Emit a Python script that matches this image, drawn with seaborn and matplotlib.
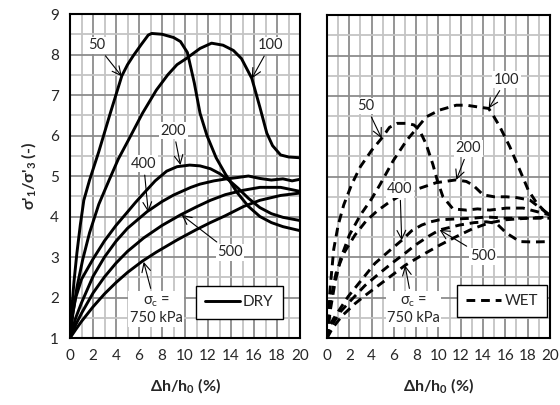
import numpy as np
import matplotlib
matplotlib.use("Agg")
import matplotlib.pyplot as plt
import seaborn as sns

# ---------------------------------------------
# Data (strain %, stress ratio)
# ---------------------------------------------
# DRY (solid)
dry_x50 = [0, 0.15, 0.35, 0.6, 0.9, 1.2, 1.7, 2.5, 3.5, 4.5, 5.0, 5.5, 6.2, 6.8, 7.1, 8.0,
           9.0, 9.6, 10.2, 10.8, 11.3, 11.9, 12.7, 13.5, 14.5, 15.5, 16.5, 17.5, 18.5, 20]
dry_y50 = [1, 1.7, 2.4, 3.1, 3.8, 4.4, 4.9, 5.6, 6.55, 7.47, 7.75, 7.97, 8.25, 8.48, 8.52, 8.5,
           8.42, 8.32, 8.05, 7.3, 6.55, 6.0, 5.45, 5.05, 4.6, 4.25, 4.0, 3.85, 3.75, 3.65]

dry_x100 = [0, 0.25, 0.6, 1.1, 1.7, 2.5, 3.4, 4.2, 5.1, 6.3, 7.5, 8.5, 9.3, 10.1, 11.3, 12.3,
            13.3, 14.2, 14.9, 15.8, 16.5, 17.1, 17.6, 18.3, 19.0, 20]
dry_y100 = [1, 1.6, 2.25, 2.93, 3.6, 4.3, 4.9, 5.42, 5.9, 6.55, 7.12, 7.5, 7.75, 7.9, 8.15, 8.28,
            8.23, 8.1, 7.9, 7.41, 6.7, 6.06, 5.75, 5.52, 5.47, 5.45]

dry_x200 = [0, 0.2, 0.5, 1.0, 2.0, 3.0, 4.0, 4.9, 5.7, 6.4, 7.4, 8.4, 9.3, 10.4, 11.3, 12.2,
            13.0, 13.8, 14.6, 15.5, 16.5, 17.5, 18.5, 20]
dry_y200 = [1, 1.55, 2.0, 2.45, 2.95, 3.4, 3.78, 4.08, 4.35, 4.57, 4.88, 5.12, 5.23, 5.27, 5.25, 5.18,
            5.06, 4.9, 4.7, 4.45, 4.22, 4.07, 3.98, 3.9]

dry_x400 = [0, 0.5, 1.0, 2.0, 3.0, 4.0, 5.0, 6.7, 8.0, 9.0, 10.5, 11.3, 12.5, 13.6, 14.5,
            15.5, 16.5, 17.5, 18.5, 19.3, 20]
dry_y400 = [1, 1.5, 1.87, 2.52, 3.0, 3.39, 3.71, 4.12, 4.37, 4.53, 4.72, 4.8, 4.88, 4.93, 4.96,
            5.0, 4.94, 4.9, 4.93, 4.88, 4.92]

dry_x500 = [0, 0.5, 1.0, 2.0, 3.0, 4.0, 5.0, 6.4, 8.0, 9.6, 11.0, 12.2, 13.5, 15.1, 16.5, 18.3, 20]
dry_y500 = [1, 1.33, 1.61, 2.11, 2.51, 2.85, 3.14, 3.47, 3.78, 4.04, 4.24, 4.4, 4.54, 4.65, 4.72, 4.72, 4.62]

dry_x750 = [0, 0.5, 1.0, 2.0, 3.0, 4.0, 5.0, 6.3, 7.5, 9.3, 11.0, 12.2, 13.5, 15.1, 16.5, 18.3, 20]
dry_y750 = [1, 1.21, 1.41, 1.77, 2.09, 2.37, 2.62, 2.9, 3.12, 3.42, 3.68, 3.85, 4.02, 4.25, 4.4, 4.52, 4.58]

# WET (dashed)
wet_x50 = [0, 0.15, 0.3, 0.6, 1.0, 1.5, 2.2, 3.0, 4.0, 4.9, 5.6, 6.3, 7.2, 7.8, 8.3, 8.9,
           9.5, 9.9, 10.4, 11.3, 12.5, 13.5, 14.6, 16.1, 17.6, 19.0, 20]
wet_y50 = [1, 1.8, 2.3, 3.2, 3.8, 4.3, 4.8, 5.25, 5.65, 5.95, 6.22, 6.32, 6.32, 6.28, 6.15, 5.8,
           5.3, 4.9, 4.5, 4.2, 4.17, 4.2, 4.17, 4.22, 4.22, 4.12, 4.05]

wet_x100 = [0, 0.3, 0.7, 1.2, 2.0, 3.0, 4.0, 4.75, 5.95, 7.15, 8.3, 8.9, 10.1, 11.6, 12.5,
            13.7, 14.5, 14.9, 15.5, 16.4, 17.3, 18.05, 18.8, 19.7, 20]
wet_y100 = [1, 1.7, 2.35, 2.95, 3.55, 4.05, 4.45, 4.8, 5.4, 5.9, 6.28, 6.48, 6.65, 6.77, 6.77,
            6.72, 6.69, 6.52, 6.24, 5.74, 5.16, 4.67, 4.35, 4.09, 4.05]

wet_x200 = [0, 0.3, 0.8, 1.5, 2.5, 3.5, 4.5, 5.5, 6.5, 7.4, 8.3, 9.8, 11.6, 12.5, 13.1, 14.0,
            15.0, 16.1, 17.0, 18.2, 19.0, 20]
wet_y200 = [1, 1.9, 2.6, 3.1, 3.55, 3.9, 4.15, 4.35, 4.52, 4.63, 4.71, 4.85, 4.92, 4.88, 4.79, 4.55,
            4.5, 4.5, 4.48, 4.42, 4.25, 4.05]

wet_x400 = [0, 0.3, 0.75, 1.9, 3.1, 4.3, 5.5, 6.7, 7.6, 8.5, 9.3, 10.1, 11.5, 13.1, 14.3, 16.1, 18.0, 20]
wet_y400 = [1, 1.35, 1.55, 2.03, 2.44, 2.85, 3.14, 3.42, 3.66, 3.8, 3.88, 3.93, 3.95, 3.97, 4.0, 3.97, 3.97, 3.97]

wet_x500 = [0, 0.5, 1.2, 2.2, 3.4, 4.6, 5.8, 7.0, 7.9, 9.1, 10.1, 11.9, 13.2, 14.3, 15.2, 16.1, 17.3, 18.5, 20]
wet_y500 = [1, 1.35, 1.65, 1.95, 2.3, 2.58, 2.85, 3.1, 3.3, 3.52, 3.68, 3.8, 3.86, 3.88, 3.84, 3.6, 3.39, 3.38, 3.39]

wet_x750 = [0, 0.5, 1.35, 2.5, 3.4, 4.6, 5.8, 7.0, 8.5, 10.1, 11.5, 13.0, 14.5, 16.0, 18.0, 20]
wet_y750 = [1, 1.25, 1.55, 1.85, 2.05, 2.3, 2.55, 2.8, 3.05, 3.3, 3.5, 3.7, 3.85, 3.93, 3.97, 4.0]

dry_curves = [(dry_x50, dry_y50), (dry_x100, dry_y100), (dry_x200, dry_y200),
              (dry_x400, dry_y400), (dry_x500, dry_y500), (dry_x750, dry_y750)]
wet_curves = [(wet_x50, wet_y50), (wet_x100, wet_y100), (wet_x200, wet_y200),
              (wet_x400, wet_y400), (wet_x500, wet_y500), (wet_x750, wet_y750)]

# label text, arrow tip, text position
dry_labels = [("50", (4.5, 7.46), (2.35, 8.23)),
              ("100", (15.8, 7.41), (17.4, 8.23)),
              ("200", (9.6, 5.27), (9.0, 6.12)),
              ("400", (6.8, 4.11), (6.4, 5.3)),
              ("500", (9.7, 4.04), (13.9, 3.12)),
              ("σ$_\\mathregular{c}$ =\n750 kPa", (6.4, 2.88), (7.5, 1.7))]
wet_labels = [("50", (4.9, 5.95), (3.5, 6.75)),
              ("100", (14.5, 6.69), (16.1, 7.4)),
              ("200", (11.6, 4.92), (12.7, 5.7)),
              ("400", (6.7, 3.42), (6.55, 4.69)),
              ("500", (10.1, 3.68), (14.0, 3.03)),
              ("σ$_\\mathregular{c}$ =\n750 kPa", (7.0, 2.8), (7.75, 1.7))]

# ---------------------------------------------
# Style
# ---------------------------------------------
sns.set_style("white")
plt.rcParams['font.family'] = ['Lato', 'DejaVu Sans']
plt.rcParams['mathtext.fontset'] = 'custom'
plt.rcParams['mathtext.rm'] = 'Lato'
plt.rcParams['mathtext.bf'] = 'Lato:bold'
FS = 10.5

fig = plt.figure(figsize=(5.6, 4.05), dpi=100)
ax1 = fig.add_axes([0.125, 0.1654, 0.411, 0.800])
ax2 = fig.add_axes([0.584, 0.1654, 0.398, 0.797])


def setup(ax, show_y):
    ax.set_xlim(0, 20)
    ax.set_ylim(1, 9)
    ax.set_xticks(range(0, 21, 2))
    ax.set_xticks(range(0, 21, 1), minor=True)
    ax.set_yticks(range(1, 10))
    ax.set_yticks(np.arange(1, 9.01, 0.5), minor=True)
    ax.grid(which='major', color='#8c8c8c', lw=1.3)
    ax.grid(which='minor', color='#c4c4c4', lw=1.3)
    ax.set_axisbelow(True)
    ax.tick_params(which='both', length=0, labelsize=FS + 0.5, pad=8)
    if not show_y:
        ax.set_yticklabels([])
    for s in ax.spines.values():
        s.set_color('black')
        s.set_linewidth(1.5)
    ax.set_xlabel("Δh/h$_\\mathbf{0}$ (%)", fontsize=FS + 1, fontweight='bold', labelpad=10)


def draw(ax, curves, labels, ls, name):
    for i, (xs, ys) in enumerate(curves):
        sns.lineplot(x=xs, y=ys, ax=ax, color='black', lw=2.1, linestyle=ls,
                     label=name if i == 0 else None, sort=False)
        if ls == '--':
            ax.lines[-1].set_dashes((3, 2))
    for txt, tip, pos in labels:
        ax.annotate(txt, xy=tip, xytext=pos, fontsize=FS, ha='center', va='center',
                    arrowprops=dict(arrowstyle='->,head_length=0.6,head_width=0.3',
                                    color='black', lw=0.8, shrinkA=2, shrinkB=0),
                    bbox=dict(boxstyle='square,pad=0.1', fc='white', ec='none'),
                    zorder=5)


setup(ax1, True)
setup(ax2, False)
draw(ax1, dry_curves, dry_labels, '-', 'DRY')
draw(ax2, wet_curves, wet_labels, '--', 'WET')

ax1.set_ylabel("σ'$_\\mathbf{1}$/σ'$_\\mathbf{3}$ (-)", fontsize=FS + 1, fontweight='bold', labelpad=8)

for ax, anchor in ((ax1, (0.925, 0.06)), (ax2, (0.987, 0.065))):
    leg = ax.legend(loc='lower right', bbox_to_anchor=anchor, borderaxespad=0,
                    fontsize=FS + 0.5, frameon=True, fancybox=False, framealpha=1,
                    edgecolor='black', handlelength=2.3, handletextpad=0.2,
                    borderpad=0.6)
    leg.get_frame().set_linewidth(1.0)

plt.savefig("out.png", dpi=100)
